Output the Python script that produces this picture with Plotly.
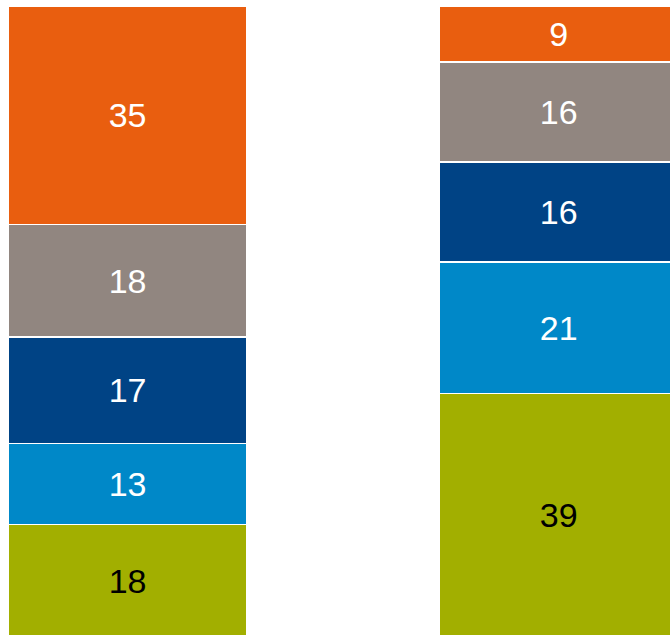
import plotly.graph_objects as go

# Two stacked columns, segments listed bottom to top
columns = ["A", "B"]
olive = [18, 39]
light_blue = [13, 21]
dark_blue = [17, 16]
gray = [18, 16]
orange = [35, 9]

series = [
    (olive, "#A2AF00", "#000000"),
    (light_blue, "#0088C8", "#FFFFFF"),
    (dark_blue, "#004385", "#FFFFFF"),
    (gray, "#918680", "#FFFFFF"),
    (orange, "#E95E0F", "#FFFFFF"),
]

fig = go.Figure()
for values, color, txt in series:
    fig.add_trace(go.Bar(
        x=[0, 1],
        y=values,
        width=0.554,
        marker=dict(color=color, line=dict(color="#FFFFFF", width=1.5)),
        text=values,
        textposition="inside",
        insidetextanchor="middle",
        constraintext="none",
        textfont=dict(family="Liberation Sans, Arial, sans-serif", size=34, color=txt),
        hoverinfo="skip",
    ))

fig.update_layout(
    barmode="stack",
    width=670,
    height=635,
    margin=dict(l=0, r=0, t=0, b=0),
    paper_bgcolor="white",
    plot_bgcolor="white",
    showlegend=False,
    xaxis=dict(range=[-0.2958, 1.258], visible=False, fixedrange=True),
    yaxis=dict(range=[0.34, 101.96], visible=False, fixedrange=True),
)

fig.write_html("out.html")
